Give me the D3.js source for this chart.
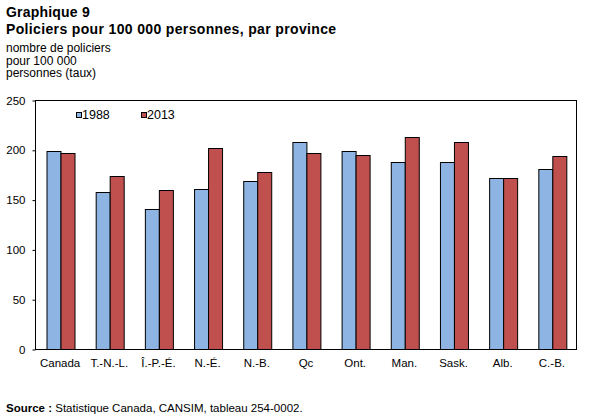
<!DOCTYPE html>
<html lang="fr">
  <head>
    <meta charset="UTF-8" />
    <title>Graphique 9 - Policiers pour 100 000 personnes</title>
    <script src="https://d3js.org/d3.v7.min.js"></script>
    <style>
      body { margin: 0; background: #fff; }
      svg text { font-family: "Liberation Sans", Arial, sans-serif; fill: #000; }
    </style>
  </head>
  <body>
    <svg id="chart" width="607" height="418"></svg>

    <script>
      const provinces = ["Canada", "T.-N.-L.", "Î.-P.-É.", "N.-É.", "N.-B.", "Qc", "Ont.", "Man.", "Sask.", "Alb.", "C.-B."];
      const years = ["1988", "2013"];
      const rate1988 = [199, 158, 141, 161, 169, 208, 199, 188, 188, 172, 181];
      const rate2013 = [197, 174, 160, 202, 178, 197, 195, 213, 208, 172, 194];
      const yTicks = [0, 50, 100, 150, 200, 250];

      const colors = { "1988": "#8EB4E3", "2013": "#C0504D" };

      const svg = d3.select("#chart");
      const margin = { left: 35.5, right: 576.5, top: 100.5, bottom: 349.5 };

      const x = d3.scaleBand().domain(provinces).range([margin.left, margin.right]);
      const xSub = d3.scaleBand().domain(years).range([x.bandwidth() / 2 - 14, x.bandwidth() / 2 + 14]);
      const y = d3.scaleLinear().domain([0, 250]).range([margin.bottom, margin.top]);

      // titles
      svg.append("text").attr("x", 6).attr("y", 17)
        .style("font-size", "14px").style("font-weight", "bold")
        .style("letter-spacing", "0.2px").text("Graphique 9");
      svg.append("text").attr("x", 6).attr("y", 34)
        .style("font-size", "14px").style("font-weight", "bold")
        .style("letter-spacing", "0.35px")
        .text("Policiers pour 100 000 personnes, par province");

      ["nombre de policiers", "pour 100 000", "personnes (taux)"].forEach((t, i) => {
        svg.append("text").attr("x", 6).attr("y", 52 + i * 12.5)
          .style("font-size", "12px").text(t);
      });

      // bars
      const rows = provinces.map((p, i) => ({ p, v: { "1988": rate1988[i], "2013": rate2013[i] } }));
      const groups = svg.selectAll(".grp").data(rows).enter().append("g")
        .attr("transform", (d) => `translate(${x(d.p)},0)`);

      groups.selectAll("rect")
        .data((d) => years.map((yr) => ({ yr, v: d.v[yr] })))
        .enter().append("rect")
        .attr("x", (d) => Math.round(xSub(d.yr)) + 0.5)
        .attr("y", (d) => Math.round(y(d.v)) + 0.5)
        .attr("width", xSub.bandwidth())
        .attr("height", (d) => margin.bottom - Math.round(y(d.v)) - 0.5)
        .attr("fill", (d) => colors[d.yr])
        .attr("stroke", "#000")
        .attr("stroke-width", 1);

      // frame
      svg.append("rect")
        .attr("x", margin.left).attr("y", margin.top)
        .attr("width", margin.right - margin.left)
        .attr("height", margin.bottom - margin.top)
        .attr("fill", "none").attr("stroke", "#000").attr("stroke-width", 1);

      // y axis
      const yAxis = svg.append("g")
        .attr("transform", `translate(${margin.left},0)`)
        .call(d3.axisLeft(y).tickValues(yTicks).tickSize(3).tickPadding(7));
      yAxis.select(".domain").remove();
      yAxis.selectAll("line").attr("stroke", "#000");
      yAxis.selectAll("text").style("font-size", "11.5px")
        .style("font-family", "'Liberation Sans', Arial, sans-serif");

      // x axis labels
      svg.append("g").selectAll("text").data(provinces).enter().append("text")
        .attr("x", (d) => x(d) + x.bandwidth() / 2)
        .attr("y", 367)
        .attr("text-anchor", "middle")
        .style("font-size", "11.5px")
        .text((d) => d);

      // legend
      const legend = svg.append("g");
      years.forEach((yr, i) => {
        const lx = 76 + i * 65;
        legend.append("rect").attr("x", lx + 0.5).attr("y", 112.5)
          .attr("width", 5).attr("height", 5)
          .attr("fill", colors[yr]).attr("stroke", "#000").attr("stroke-width", 1);
        legend.append("text").attr("x", lx + 6).attr("y", 119)
          .style("font-size", "12.5px").text(yr);
      });

      // source
      const src = svg.append("text").attr("x", 6).attr("y", 412).style("font-size", "11.5px");
      src.append("tspan").style("font-weight", "bold").text("Source : ");
      src.append("tspan").text("Statistique Canada, CANSIM, tableau 254-0002.");
    </script>
  </body>
</html>
